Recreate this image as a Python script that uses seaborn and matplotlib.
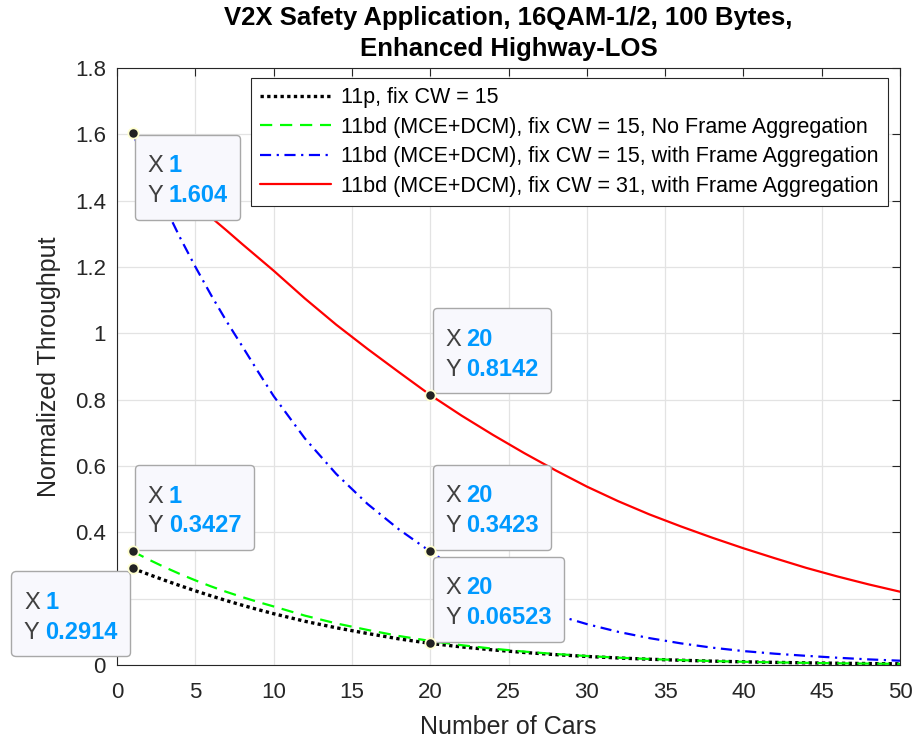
import matplotlib
matplotlib.use("Agg")
import matplotlib.pyplot as plt
from matplotlib.ticker import FuncFormatter, MultipleLocator
from matplotlib.offsetbox import AnnotationBbox, TextArea, HPacker, VPacker, DrawingArea
import seaborn as sns

# Number of cars on the highway segment
cars = [1, 2, 3, 4, 5, 6, 7, 8, 9, 10, 12, 14, 16, 18, 20, 22, 24, 26, 28, 30,
        32, 34, 36, 38, 40, 42, 44, 46, 48, 50]

# Normalized throughput per scheme
thr_11p = [0.2914, 0.2735, 0.2562, 0.2396, 0.2237, 0.2085, 0.1940, 0.1802, 0.1671, 0.1547,
           0.1318, 0.1122, 0.0950, 0.0788, 0.06523, 0.0545, 0.0455, 0.0378, 0.0313, 0.0258,
           0.0212, 0.0174, 0.0143, 0.0117, 0.0096, 0.0079, 0.0065, 0.0053, 0.0044, 0.0036]
thr_bd_cw15_noagg = [0.3427, 0.3184, 0.2958, 0.2748, 0.2553, 0.2371, 0.2203, 0.2047, 0.1901, 0.1766,
                     0.1488, 0.1254, 0.1057, 0.0875, 0.0725, 0.0598, 0.0492, 0.0404, 0.0331, 0.0271,
                     0.0221, 0.0180, 0.0147, 0.0119, 0.0097, 0.0079, 0.0064, 0.0052, 0.0042, 0.0034]
thr_bd_cw15_agg = [1.604, 1.492, 1.388, 1.291, 1.201, 1.116, 1.036, 0.961, 0.885, 0.811,
                   0.683, 0.576, 0.4855, 0.409, 0.3423, 0.2791, 0.2276, 0.1856, 0.1513, 0.1234,
                   0.1000, 0.0810, 0.0653, 0.0523, 0.0420, 0.0341, 0.0277, 0.0219, 0.0169, 0.0130]
thr_bd_cw31_agg = [1.600, 1.546, 1.494, 1.444, 1.396, 1.350, 1.310, 1.269, 1.229, 1.189,
                   1.105, 1.026, 0.953, 0.883, 0.8142, 0.752, 0.694, 0.639, 0.587, 0.538,
                   0.494, 0.454, 0.418, 0.384, 0.352, 0.322, 0.293, 0.267, 0.243, 0.221]

series_labels = [
    "11p, fix CW = 15",
    "11bd (MCE+DCM), fix CW = 15, No Frame Aggregation",
    "11bd (MCE+DCM), fix CW = 15, with Frame Aggregation",
    "11bd (MCE+DCM), fix CW = 31, with Frame Aggregation",
]

# Highlighted data points
tip_x = [1, 20, 20, 20, 1, 1]
tip_y = [1.604, 0.8142, 0.3423, 0.06523, 0.3427, 0.2914]

title_text = "V2X Safety Application, 16QAM-1/2, 100 Bytes,\nEnhanced Highway-LOS"
x_label = "Number of Cars"
y_label = "Normalized Throughput"

sns.set_style("white")
plt.rcParams["font.family"] = ["Liberation Sans", "DejaVu Sans"]

AX_COLOR = "#262626"
W, H = 916, 744
fig = plt.figure(figsize=(W / 100, H / 100), dpi=100)
ax = fig.add_axes([117 / W, 1 - 665 / H, (900 - 117) / W, (665 - 68) / H])

styles = [
    dict(color="black", linestyle=(0, (1, 1)), linewidth=2.4),
    dict(color="#00FF00", linestyle=(0, (5.5, 3.5)), linewidth=1.6),
    dict(color="#0000FF", linestyle=(0, (5, 2.5, 1, 2.5)), linewidth=1.6),
    dict(color="#FF0000", linestyle="-", linewidth=1.6),
]
all_series = [thr_11p, thr_bd_cw15_noagg, thr_bd_cw15_agg, thr_bd_cw31_agg]
for vals, lab, st in zip(all_series, series_labels, styles):
    sns.lineplot(x=cars, y=vals, ax=ax, label=lab, **st)

ax.set_xlim(0, 50)
ax.set_ylim(0, 1.8)
ax.xaxis.set_major_locator(MultipleLocator(5))
ax.yaxis.set_major_locator(MultipleLocator(0.2))
ax.yaxis.set_major_formatter(FuncFormatter(lambda v, p: f"{round(v, 1):g}"))
ax.set_axisbelow(True)
ax.grid(True, color="#e3e3e3", linewidth=0.9)
ax.tick_params(direction="in", length=6, width=0.8, top=True, right=True,
               colors=AX_COLOR, labelsize=16, pad=8)
ax.tick_params(axis="x", pad=12)
for sp in ax.spines.values():
    sp.set_color(AX_COLOR)
    sp.set_linewidth(0.8)

ax.set_xlabel(x_label, fontsize=18, color=AX_COLOR, labelpad=9)
ax.set_ylabel(y_label, fontsize=18, color=AX_COLOR, labelpad=10)
ax.set_title(title_text, fontsize=18.5, fontweight="bold", color="black",
             pad=8.5, linespacing=1.4)

leg = ax.legend(loc="upper right", bbox_to_anchor=(888 / W, 1 - 78 / H),
                bbox_transform=fig.transFigure, borderaxespad=0,
                fontsize=15.5, handlelength=3.3, handletextpad=0.5,
                labelspacing=0.4, borderpad=0.42, fancybox=False,
                framealpha=1, edgecolor=AX_COLOR)
leg.get_frame().set_linewidth(0.8)
for t in leg.get_texts():
    t.set_color("black")


def add_datatip(ax, x, y, align, offset):
    fs = 17

    def row(name, val):
        return HPacker(children=[
            TextArea(name, textprops=dict(color="#404040", fontsize=fs)),
            TextArea(val, textprops=dict(color="#0099FF", fontsize=fs,
                                         fontweight="bold")),
        ], align="baseline", pad=0, sep=4)

    content = VPacker(children=[DrawingArea(1, 0.1), row("X", f"{x:g}"),
                                row("Y", f"{y:.4g}")],
                      align="left", pad=9, sep=5)
    ab = AnnotationBbox(content, (x, y), xybox=offset, xycoords="data",
                        boxcoords="offset points", box_alignment=align,
                        frameon=True, pad=0, annotation_clip=False, zorder=8,
                        bboxprops=dict(boxstyle="round,pad=0,rounding_size=0.3",
                                       facecolor="#F8F8FD", edgecolor="#A8A8A8",
                                       linewidth=1.0))
    ax.add_artist(ab)
    ab.set_clip_on(False)


tip_align = [(0, 1), (0, 0), (0, 0), (0, 0), (0, 0), (1, 1)]
tip_offset = [(1.7, -1.2), (1.7, 1.4), (1.7, 1.2), (1.7, 1.2), (1.7, 1.0), (-1.8, -2.2)]
for x, y, al, off in zip(tip_x, tip_y, tip_align, tip_offset):
    add_datatip(ax, x, y, al, off)

sns.scatterplot(x=tip_x, y=tip_y, ax=ax, color="#222222", edgecolor="#FFFFD0",
                s=55, linewidth=1.3, zorder=10, legend=False, clip_on=False)

fig.savefig("out.png", dpi=100)
